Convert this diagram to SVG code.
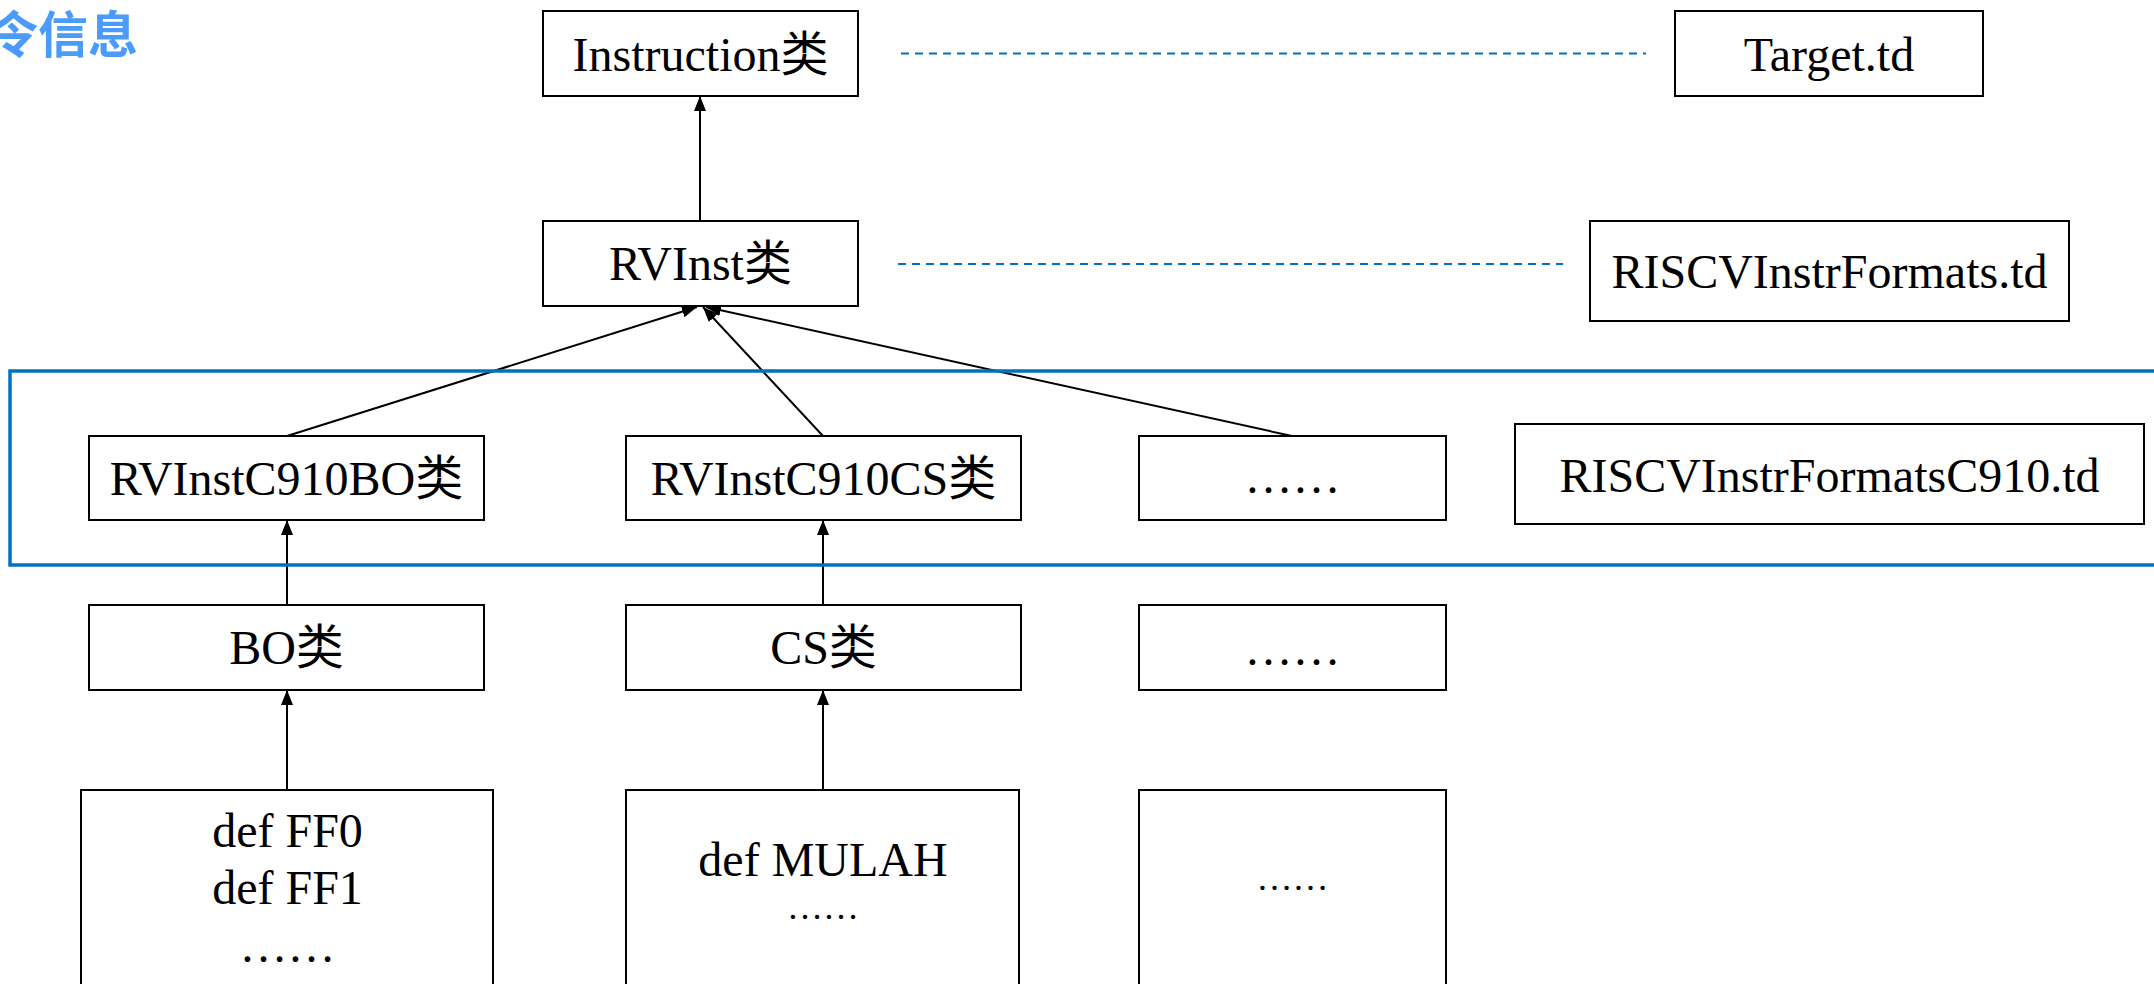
<svg xmlns="http://www.w3.org/2000/svg" width="2154" height="984" viewBox="0 0 2154 984">
  <style>
    .box { fill: #ffffff; stroke: #000000; stroke-width: 2; }
    .lbl { font-family: "Liberation Serif", "Noto Sans CJK SC", serif; font-size: 48px; fill: #000000; text-anchor: middle; }
    .small { font-size: 36px; }
    .edge { stroke: #000000; stroke-width: 2; fill: none; }
    .link { stroke: #0070C0; stroke-width: 2; stroke-dasharray: 8 6; fill: none; }
    .frame { stroke: #0070C0; stroke-width: 3.5; fill: none; }
    .title { font-family: "Noto Sans CJK SC", "Noto Sans", sans-serif; font-size: 50px; font-weight: bold; fill: #4A9BFA; }
  </style>
  <defs>
    <marker id="arr" viewBox="0 0 15 12" refX="15" refY="6" markerWidth="15" markerHeight="12" orient="auto" markerUnits="userSpaceOnUse">
      <path d="M0,0 L15,6 L0,12 z" fill="#000000"/>
    </marker>
  </defs>

  <rect width="2154" height="984" fill="#ffffff"/>

  <text class="title" x="-12" y="53">令信息</text>

  <!-- inheritance edges and file links -->
  <g id="connectors">
    <line class="edge" x1="700" y1="221" x2="700" y2="96" marker-end="url(#arr)"/>
    <line class="edge" x1="287" y1="436" x2="697" y2="307" marker-end="url(#arr)"/>
    <line class="edge" x1="823" y1="436" x2="703" y2="307" marker-end="url(#arr)"/>
    <line class="edge" x1="1292" y1="436" x2="706" y2="307" marker-end="url(#arr)"/>
    <line class="edge" x1="287" y1="605" x2="287" y2="520" marker-end="url(#arr)"/>
    <line class="edge" x1="823" y1="605" x2="823" y2="520" marker-end="url(#arr)"/>
    <line class="edge" x1="287" y1="790" x2="287" y2="690" marker-end="url(#arr)"/>
    <line class="edge" x1="823" y1="790" x2="823" y2="690" marker-end="url(#arr)"/>
    <line class="link" x1="901" y1="53.5" x2="1646" y2="53.5"/>
    <line class="link" x1="898" y1="264" x2="1563" y2="264"/>
  </g>

  <!-- C910 format group -->
  <rect id="c910-frame" class="frame" x="10" y="371" width="2200" height="194"/>

  <g id="instruction">
    <rect class="box" x="543" y="11" width="315" height="85"/>
    <text class="lbl" x="700.5" y="71">Instruction类</text>
  </g>
  <g id="target-td">
    <rect class="box" x="1675" y="11" width="308" height="85"/>
    <text class="lbl" x="1829" y="71">Target.td</text>
  </g>
  <g id="rvinst">
    <rect class="box" x="543" y="221" width="315" height="85"/>
    <text class="lbl" x="700.5" y="280">RVInst类</text>
  </g>
  <g id="formats-td">
    <rect class="box" x="1590" y="221" width="479" height="100"/>
    <text class="lbl" x="1829.5" y="288">RISCVInstrFormats.td</text>
  </g>
  <g id="rvinst-c910-bo">
    <rect class="box" x="89" y="436" width="395" height="84"/>
    <text class="lbl" x="286.5" y="495">RVInstC910BO类</text>
  </g>
  <g id="rvinst-c910-cs">
    <rect class="box" x="626" y="436" width="395" height="84"/>
    <text class="lbl" x="823.5" y="495">RVInstC910CS类</text>
  </g>
  <g id="rvinst-c910-more">
    <rect class="box" x="1139" y="436" width="307" height="84"/>
    <text class="lbl" x="1292.5" y="493">……</text>
  </g>
  <g id="formats-c910-td">
    <rect class="box" x="1515" y="424" width="629" height="100"/>
    <text class="lbl" x="1829.5" y="492">RISCVInstrFormatsC910.td</text>
  </g>
  <g id="bo">
    <rect class="box" x="89" y="605" width="395" height="85"/>
    <text class="lbl" x="286.5" y="664">BO类</text>
  </g>
  <g id="cs">
    <rect class="box" x="626" y="605" width="395" height="85"/>
    <text class="lbl" x="823.5" y="664">CS类</text>
  </g>
  <g id="class-more">
    <rect class="box" x="1139" y="605" width="307" height="85"/>
    <text class="lbl" x="1292.5" y="665">……</text>
  </g>
  <g id="defs-bo">
    <rect class="box" x="81" y="790" width="412" height="220"/>
    <text class="lbl" x="287.5" y="847">def FF0</text>
    <text class="lbl" x="287.5" y="904">def FF1</text>
    <text class="lbl" x="287.5" y="962">……</text>
  </g>
  <g id="defs-cs">
    <rect class="box" x="626" y="790" width="393" height="220"/>
    <text class="lbl" x="823" y="876">def MULAH</text>
    <text class="lbl small" x="823" y="919">……</text>
  </g>
  <g id="defs-more">
    <rect class="box" x="1139" y="790" width="307" height="220"/>
    <text class="lbl small" x="1292.5" y="890">……</text>
  </g>
</svg>
